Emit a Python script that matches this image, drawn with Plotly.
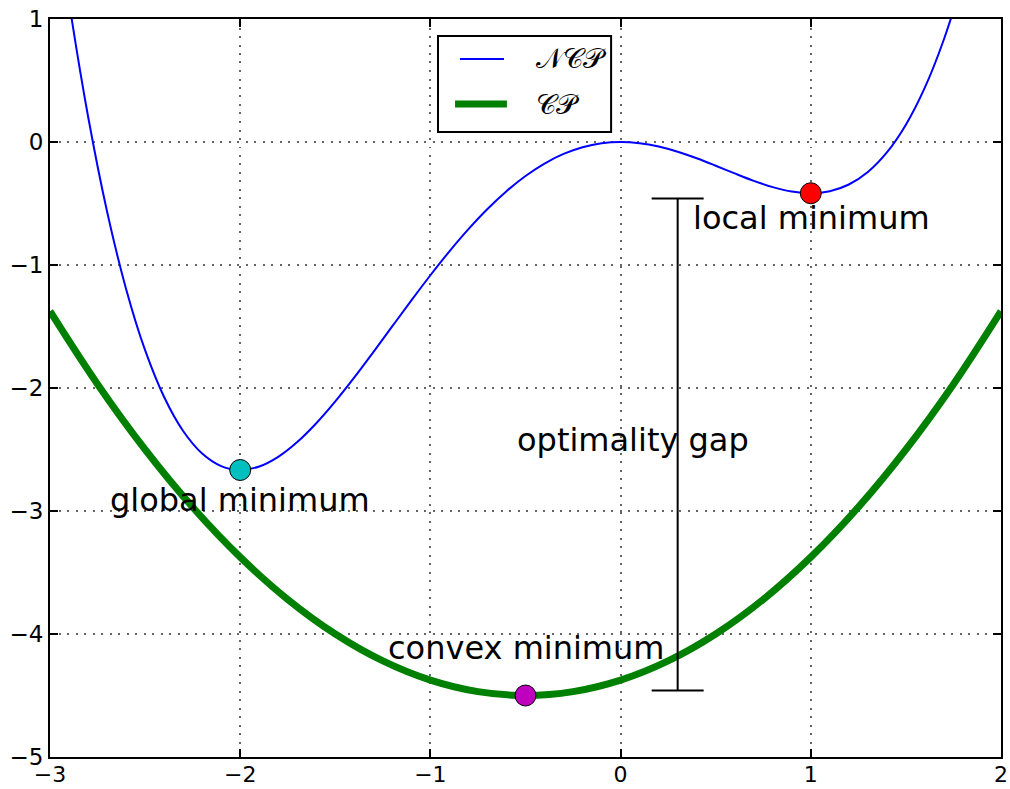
import plotly.graph_objects as go

# NCP curve samples
ncp_x = [-3.0, -2.9, -2.8, -2.7, -2.6, -2.5, -2.4, -2.3, -2.2, -2.1, -2.0, -1.9, -1.8, -1.7, -1.6,
         -1.5, -1.4, -1.3, -1.2, -1.1, -1.0, -0.9, -0.8, -0.7, -0.6, -0.5, -0.4, -0.3, -0.2, -0.1,
         0.0, 0.1, 0.2, 0.3, 0.4, 0.5, 0.6, 0.7, 0.8, 0.9, 1.0, 1.1, 1.2, 1.3, 1.4, 1.5, 1.6, 1.7,
         1.8, 1.9, 2.0]
ncp_y = [2.25, 1.1423, 0.2091, -0.565, -1.1943, -1.6927, -2.0736, -2.3497, -2.5329, -2.635, -2.6667,
         -2.6383, -2.5596, -2.4397, -2.2869, -2.1094, -1.9143, -1.7083, -1.4976, -1.2877, -1.0833,
         -0.889, -0.7083, -0.5443, -0.3996, -0.276, -0.1749, -0.097, -0.0423, -0.0103, 0.0,
         -0.0096, -0.0369, -0.079, -0.1323, -0.1927, -0.2556, -0.3157, -0.3669, -0.403, -0.4167,
         -0.4003, -0.3456, -0.2437, -0.0849, 0.1406, 0.4437, 0.8357, 1.3284, 1.9343, 2.6667]

# CP curve samples
cp_x = [-3.0, -2.75, -2.5, -2.25, -2.0, -1.75, -1.5, -1.25, -1.0, -0.75, -0.5, -0.25, 0.0,
        0.25, 0.5, 0.75, 1.0, 1.25, 1.5, 1.75, 2.0]
cp_y = [-1.375, -1.96875, -2.5, -2.96875, -3.375, -3.71875, -4.0, -4.21875, -4.375, -4.46875,
        -4.5, -4.46875, -4.375, -4.21875, -4.0, -3.71875, -3.375, -2.96875, -2.5, -1.96875, -1.375]

# special points
pt_x = [-2.0, 1.0, -0.5]
pt_y = [-2.6667, -0.4167, -4.5]
pt_colors = ["#00BFBF", "#FF0000", "#BF00BF"]

# optimality gap bar
gap_x = [0.3]
gap_center = [-2.46]
gap_half = [2.0]

# annotations
labels = ["local minimum", "optimality gap", "global minimum", "convex minimum"]
label_x = [1.006, 0.065, -2.0, -0.497]
label_y = [-0.62, -2.42, -2.91, -4.11]

# legend entries
legend_names = ["𝒩𝒞𝒫", "𝒞𝒫"]
legend_colors = ["#0000FF", "#008000"]
legend_widths = [2, 7]

fig = go.Figure()
fig.add_trace(go.Scatter(x=ncp_x, y=ncp_y, mode="lines",
                         line=dict(color=legend_colors[0], width=legend_widths[0], shape="spline"),
                         name=legend_names[0], showlegend=False))
fig.add_trace(go.Scatter(x=cp_x, y=cp_y, mode="lines",
                         line=dict(color=legend_colors[1], width=legend_widths[1], shape="spline"),
                         name=legend_names[1], showlegend=False))
fig.add_trace(go.Scatter(x=gap_x, y=gap_center, mode="markers", marker=dict(size=1, color="rgba(0,0,0,0)"),
                         error_y=dict(type="data", array=gap_half, color="black", thickness=2, width=26),
                         showlegend=False, hoverinfo="skip"))
fig.add_trace(go.Scatter(x=pt_x, y=pt_y, mode="markers",
                         marker=dict(size=21, color=pt_colors, line=dict(color="black", width=1)),
                         showlegend=False))

for t, x, y in zip(labels, label_x, label_y):
    fig.add_annotation(x=x, y=y, text=t, showarrow=False, xanchor="center", yanchor="middle",
                       font=dict(size=32, color="black", family="DejaVu Sans"))

# custom legend box (paper coordinates)
fig.add_shape(type="rect", xref="paper", yref="paper", x0=0.408, x1=0.590, y0=0.847, y1=0.977,
              line=dict(color="black", width=2), fillcolor="white", layer="above")
leg_line_x0 = [0.431, 0.4259]
leg_line_x1 = [0.4774, 0.4805]
leg_y = [0.9458, 0.8848]
for i in range(2):
    fig.add_shape(type="line", xref="paper", yref="paper", x0=leg_line_x0[i], x1=leg_line_x1[i],
                  y0=leg_y[i], y1=leg_y[i], line=dict(color=legend_colors[i], width=legend_widths[i]),
                  layer="above")
    fig.add_annotation(xref="paper", yref="paper", x=0.509, y=leg_y[i], text=legend_names[i],
                       showarrow=False, xanchor="left", yanchor="middle",
                       font=dict(size=28, family="DejaVu Serif", color="black"))

axis_common = dict(showline=True, linecolor="black", linewidth=2, mirror="ticks", ticks="inside",
                   ticklen=8, tickwidth=1.5, tickcolor="black", showgrid=True, gridcolor="#666666",
                   gridwidth=1.5, griddash="2px,6.5px", zeroline=False, automargin=False)

fig.update_xaxes(range=[-3, 2], tickvals=[-3, -2, -1, 0, 1, 2], ticklabelstandoff=-3,
                 tickfont=dict(size=22, color="black", family="DejaVu Sans"), **axis_common)
fig.update_yaxes(range=[-5, 1], tickvals=[-5, -4, -3, -2, -1, 0, 1],
                 tickfont=dict(size=23, color="black", family="DejaVu Sans"), **axis_common)

fig.update_layout(width=1010, height=789, margin=dict(l=50, r=9, t=19, b=32),
                  plot_bgcolor="white", paper_bgcolor="white", showlegend=False,
                  font=dict(family="DejaVu Sans", color="black"))

fig.write_html("out.html")
